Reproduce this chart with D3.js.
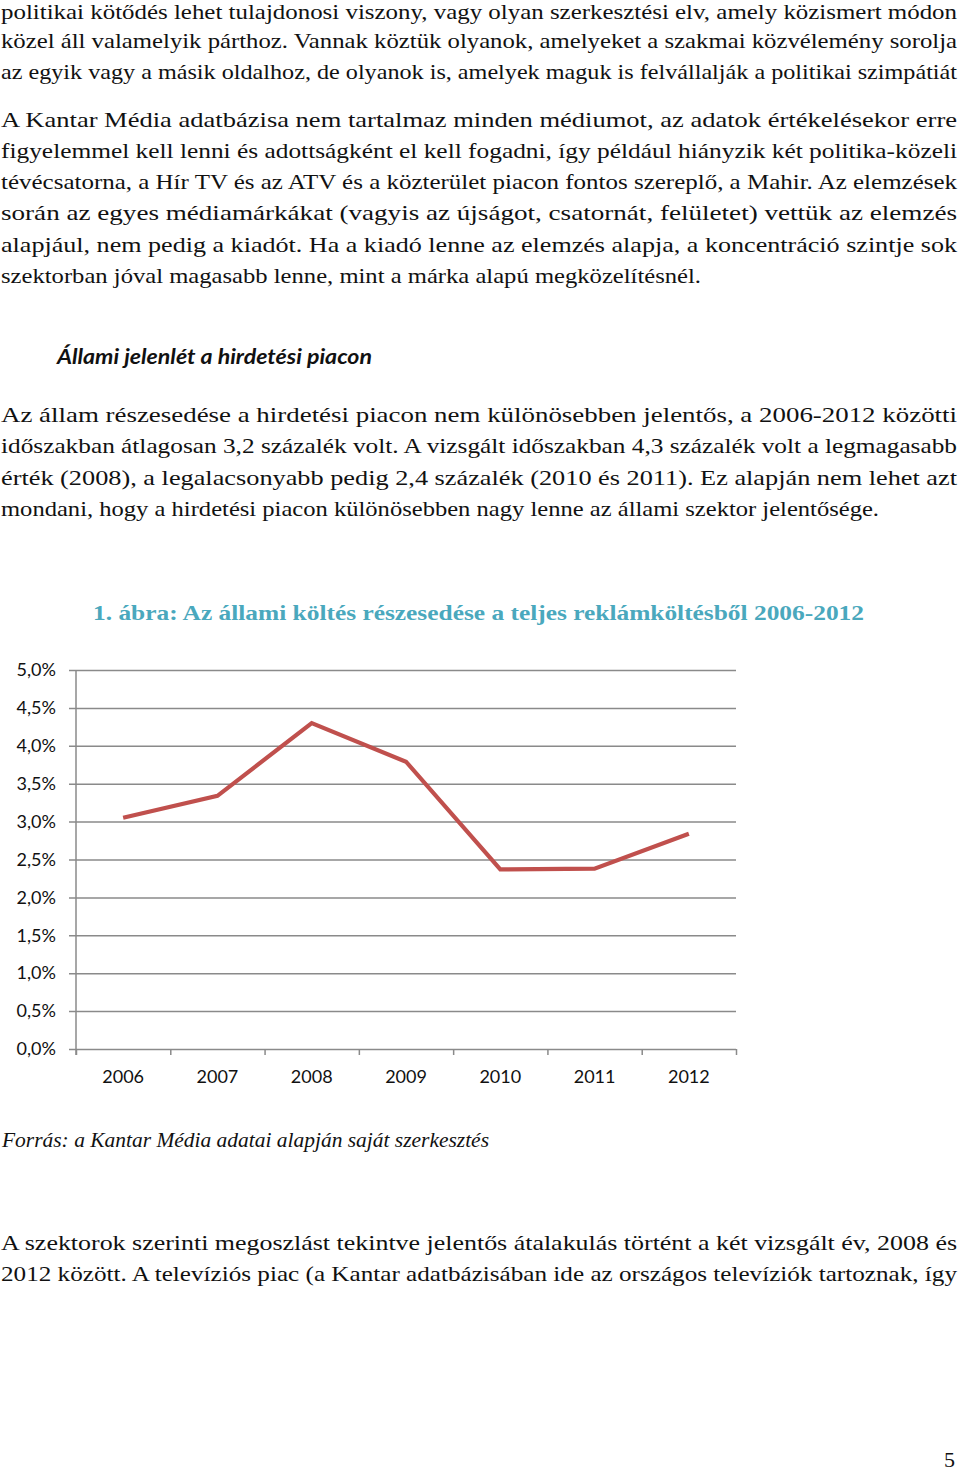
<!DOCTYPE html>
<html>
<head>
<meta charset="utf-8">
<script src="https://cdn.jsdelivr.net/npm/d3@7"></script>
<style>
  html, body { margin: 0; padding: 0; background: #fff; }
  svg { display: block; }
</style>
</head>
<body>
<svg id="page"></svg>
<script>
// chart data
const years = ["2006", "2007", "2008", "2009", "2010", "2011", "2012"];
const shares = [0.0305, 0.0334, 0.0430, 0.0379, 0.0237, 0.0238, 0.0284];
const yTicks = [0, 0.005, 0.01, 0.015, 0.02, 0.025, 0.03, 0.035, 0.04, 0.045, 0.05];

const chartTitle = "1. ábra: Az állami költés részesedése a teljes reklámköltésből 2006-2012";
const sourceNote = "Forrás: a Kantar Média adatai alapján saját szerkesztés";
const heading = "Állami jelenlét a hirdetési piacon";

// body text, one entry per printed line: [text, baseline, width]
const bodyLines = [
  ["politikai kötődés lehet tulajdonosi viszony, vagy olyan szerkesztési elv, amely közismert módon", 19, 956],
  ["közel áll valamelyik párthoz. Vannak köztük olyanok, amelyeket a szakmai közvélemény sorolja", 48, 956],
  ["az egyik vagy a másik oldalhoz, de olyanok is, amelyek maguk is felvállalják a politikai szimpátiát", 79, 956],
  ["A Kantar Média adatbázisa nem tartalmaz minden médiumot, az adatok értékelésekor erre", 127, 956],
  ["figyelemmel kell lenni és adottságként el kell fogadni, így például hiányzik két politika-közeli", 158, 956],
  ["tévécsatorna, a Hír TV és az ATV és a közterület piacon fontos szereplő, a Mahir. Az elemzések", 189, 956],
  ["során az egyes médiamárkákat (vagyis az újságot, csatornát, felületet) vettük az elemzés", 220, 956],
  ["alapjául, nem pedig a kiadót. Ha a kiadó lenne az elemzés alapja, a koncentráció szintje sok", 252, 956],
  ["szektorban jóval magasabb lenne, mint a márka alapú megközelítésnél.", 283, 700],
  ["Az állam részesedése a hirdetési piacon nem különösebben jelentős, a 2006-2012 közötti", 422, 956],
  ["időszakban átlagosan 3,2 százalék volt. A vizsgált időszakban 4,3 százalék volt a legmagasabb", 453, 956],
  ["érték (2008), a legalacsonyabb pedig 2,4 százalék (2010 és 2011). Ez alapján nem lehet azt", 485, 956],
  ["mondani, hogy a hirdetési piacon különösebben nagy lenne az állami szektor jelentősége.", 516, 878],
  ["A szektorok szerinti megoszlást tekintve jelentős átalakulás történt a két vizsgált év, 2008 és", 1250, 956],
  ["2012 között. A televíziós piac (a Kantar adatbázisában ide az országos televíziók tartoznak, így", 1281, 956]
];

const width = 960;
const height = 1472;
const svg = d3.select("#page")
  .attr("width", width)
  .attr("height", height);

const serif = "'Liberation Serif', 'DejaVu Serif', serif";
const sans = "Lato, 'Open Sans', sans-serif";

// running text
svg.append("g")
  .selectAll("text")
  .data(bodyLines)
  .enter()
  .append("text")
  .attr("x", 1)
  .attr("y", d => d[1])
  .attr("textLength", d => d[2])
  .attr("lengthAdjust", "spacingAndGlyphs")
  .style("font-family", serif)
  .style("font-size", "21px")
  .style("fill", "#111")
  .text(d => d[0]);

svg.append("text")
  .attr("x", 57)
  .attr("y", 364)
  .attr("textLength", 315)
  .attr("lengthAdjust", "spacingAndGlyphs")
  .style("font-family", sans)
  .style("font-size", "20px")
  .style("font-weight", "bold")
  .style("font-style", "italic")
  .style("fill", "#111")
  .text(heading);

// chart title
svg.append("text")
  .attr("x", 93)
  .attr("y", 620)
  .attr("textLength", 771)
  .attr("lengthAdjust", "spacingAndGlyphs")
  .style("font-family", serif)
  .style("font-size", "22px")
  .style("font-weight", "bold")
  .style("fill", "#4aa8bd")
  .text(chartTitle);

// plot
const plotLeft = 76, plotRight = 736, plotTop = 670, plotBottom = 1049;

const x = d3.scaleBand().domain(years).range([plotLeft, plotRight]).padding(0);
const y = d3.scaleLinear().domain([0, 0.05]).range([plotBottom, plotTop]);

const fmt = v => d3.format(".1f")(v * 100).replace(".", ",") + "%";

const yAxis = svg.append("g")
  .attr("transform", `translate(${plotRight},0)`)
  .call(d3.axisLeft(y).tickValues(yTicks).tickSize(plotRight - 69).tickPadding(13).tickFormat(fmt));
yAxis.select(".domain").remove();
yAxis.selectAll(".tick line")
  .attr("stroke", "#8a8a8a")
  .attr("stroke-width", 1.5);
yAxis.selectAll(".tick text")
  .style("font-family", sans)
  .style("font-size", "18px")
  .style("fill", "#111");

// left axis line
svg.append("line")
  .attr("x1", plotLeft).attr("x2", plotLeft)
  .attr("y1", plotTop).attr("y2", plotBottom + 6)
  .attr("stroke", "#8a8a8a")
  .attr("stroke-width", 1.5);

// category boundary ticks
const xEdges = d3.scaleLinear().domain([0, years.length]).range([plotLeft, plotRight]);
const xTickAxis = svg.append("g")
  .attr("transform", `translate(0,${plotBottom})`)
  .call(d3.axisBottom(xEdges).ticks(years.length).tickSize(6).tickFormat(""));
xTickAxis.select(".domain").remove();
xTickAxis.selectAll(".tick line")
  .attr("stroke", "#8a8a8a")
  .attr("stroke-width", 1.5);

// year labels
const xAxis = svg.append("g")
  .attr("transform", `translate(0,${plotBottom})`)
  .call(d3.axisBottom(x).tickSize(0).tickPadding(21));
xAxis.select(".domain").remove();
xAxis.selectAll(".tick text")
  .style("font-family", sans)
  .style("font-size", "18px")
  .style("fill", "#111");

// the series
const line = d3.line()
  .x((d, i) => x(years[i]) + x.bandwidth() / 2)
  .y(d => y(d));

svg.append("path")
  .datum(shares)
  .attr("d", line)
  .attr("fill", "none")
  .attr("stroke", "#c0504d")
  .attr("stroke-width", 4.2)
  .attr("stroke-linejoin", "miter");

// source and page number
svg.append("text")
  .attr("x", 2)
  .attr("y", 1147)
  .attr("textLength", 487)
  .attr("lengthAdjust", "spacingAndGlyphs")
  .style("font-family", serif)
  .style("font-size", "20px")
  .style("font-style", "italic")
  .style("fill", "#111")
  .text(sourceNote);

svg.append("text")
  .attr("x", 955)
  .attr("y", 1467)
  .attr("text-anchor", "end")
  .style("font-family", serif)
  .style("font-size", "22px")
  .style("fill", "#111")
  .text("5");
</script>
</body>
</html>
